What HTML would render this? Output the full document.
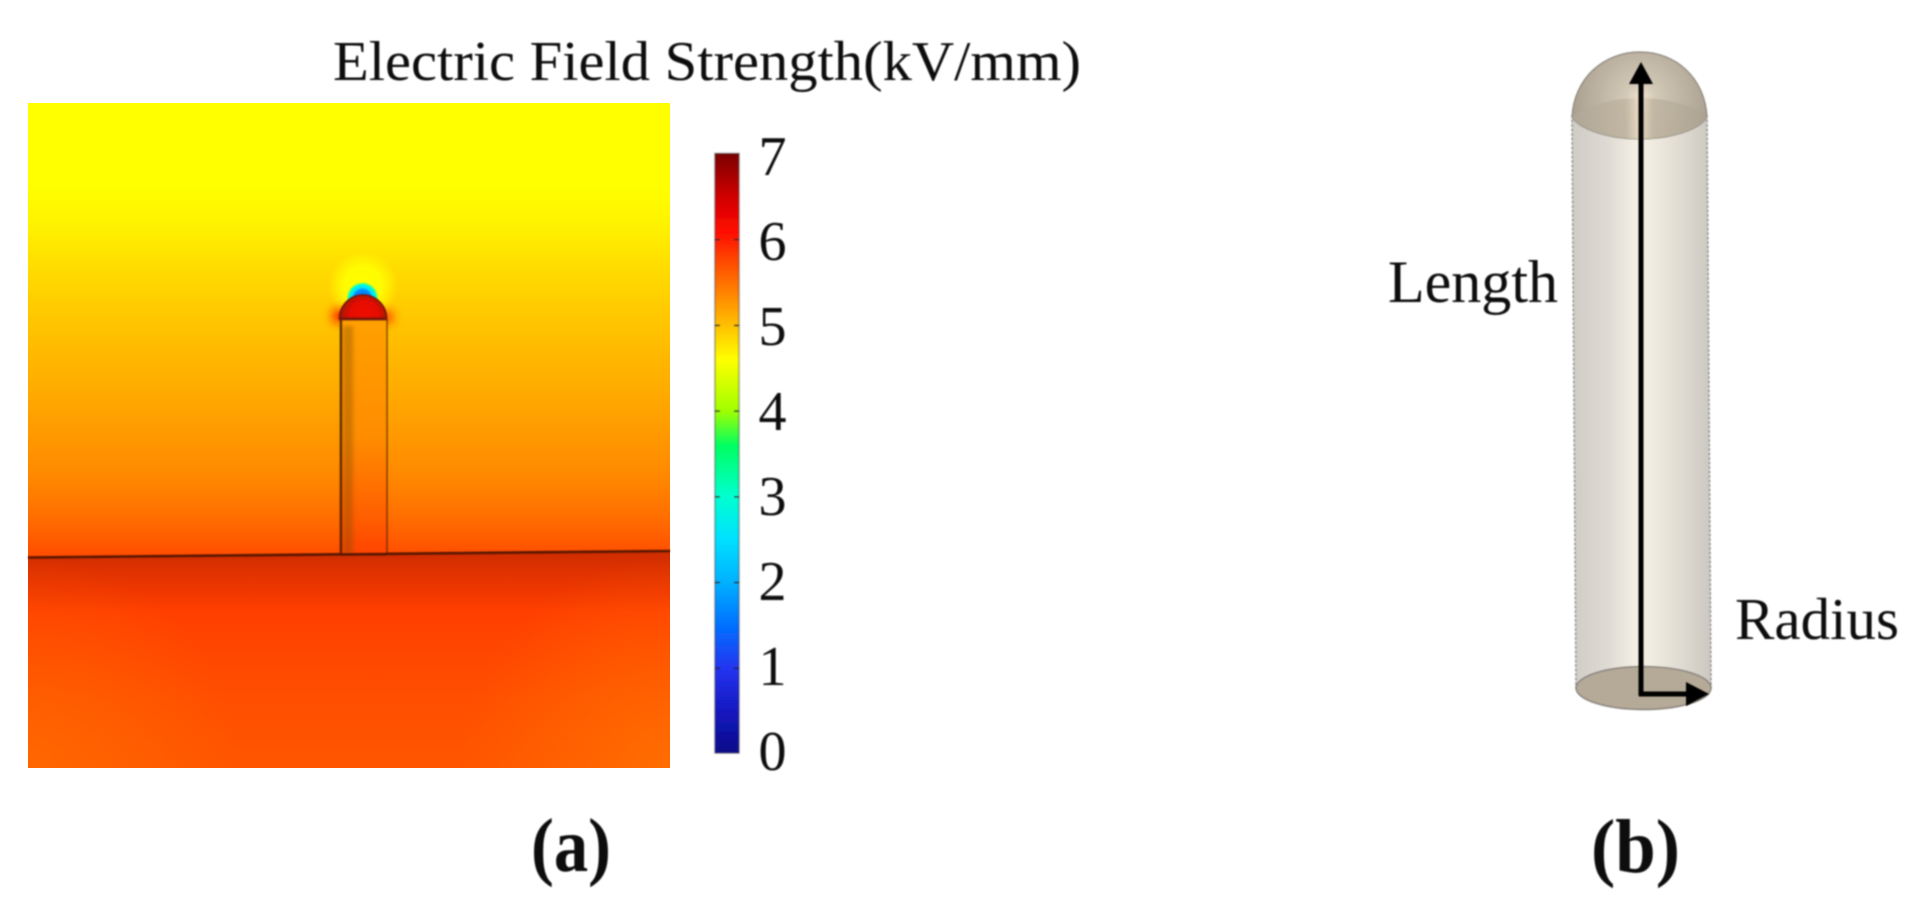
<!DOCTYPE html>
<html lang="en">
<head>
<meta charset="utf-8">
<title>Electric field strength around a capsule-shaped particle</title>
<style>
html,body{margin:0;padding:0;background:#fff;width:1918px;height:908px;overflow:hidden}
svg{display:block}
text{font-family:"Liberation Serif",serif;fill:#0a0a0a}
</style>
</head>
<body>
<svg id="figure" xmlns="http://www.w3.org/2000/svg" width="1918" height="908" viewBox="0 0 1918 908">
<defs>
<filter id="soft" x="-5%" y="-5%" width="110%" height="110%"><feGaussianBlur stdDeviation="0.7"/></filter>
<filter id="softer" x="-60%" y="-5%" width="220%" height="110%"><feGaussianBlur stdDeviation="2"/></filter>
<filter id="glow" x="-150%" y="-150%" width="400%" height="400%"><feGaussianBlur stdDeviation="5"/></filter>
<linearGradient id="air-gradient" gradientUnits="userSpaceOnUse" x1="0" y1="103" x2="0" y2="556"></linearGradient>
<linearGradient id="substrate-gradient" gradientUnits="userSpaceOnUse" x1="0" y1="556" x2="0" y2="768"></linearGradient>
<linearGradient id="colorbar-gradient" gradientUnits="userSpaceOnUse" x1="0" y1="754" x2="0" y2="154"></linearGradient>
<linearGradient id="substrate-shade" x1="0" y1="0" x2="0" y2="1">
<stop offset="0" stop-color="#8a2000" stop-opacity=".42"/><stop offset=".1" stop-color="#8a2000" stop-opacity=".26"/><stop offset=".28" stop-color="#8a2000" stop-opacity="0"/>
</linearGradient>
<radialGradient id="corner-left" gradientUnits="userSpaceOnUse" cx="28" cy="768" r="210">
<stop offset="0" stop-color="#ff7a00" stop-opacity=".5"/><stop offset="1" stop-color="#ff7a00" stop-opacity="0"/>
</radialGradient>
<radialGradient id="corner-right" gradientUnits="userSpaceOnUse" cx="670" cy="768" r="210">
<stop offset="0" stop-color="#ff7a00" stop-opacity=".65"/><stop offset="1" stop-color="#ff7a00" stop-opacity="0"/>
</radialGradient>
<radialGradient id="tip-halo" gradientUnits="userSpaceOnUse" cx="363" cy="286" r="35">
<stop offset="0" stop-color="#ffff00"/><stop offset=".55" stop-color="#ffff00" stop-opacity=".9"/><stop offset="1" stop-color="#ffff00" stop-opacity="0"/>
</radialGradient>
<radialGradient id="tip-depletion" gradientUnits="userSpaceOnUse" cx="362.5" cy="298" r="17">
<stop offset="0" stop-color="#0070ff"/><stop offset=".47" stop-color="#0090ff"/><stop offset=".62" stop-color="#00e0ff"/><stop offset=".78" stop-color="#00ffd0"/><stop offset=".9" stop-color="#a0ff40" stop-opacity=".8"/><stop offset="1" stop-color="#ffff00" stop-opacity="0"/>
</radialGradient>
<radialGradient id="cap-fill" gradientUnits="userSpaceOnUse" cx="364" cy="316" r="25">
<stop offset="0" stop-color="#f01000"/><stop offset=".6" stop-color="#e41000"/><stop offset="1" stop-color="#96140a"/>
</radialGradient>
<linearGradient id="rod-fill" gradientUnits="userSpaceOnUse" x1="0" y1="319" x2="0" y2="556">
<stop offset="0" stop-color="#ffa000"/><stop offset=".5" stop-color="#ff8c00"/><stop offset=".85" stop-color="#ff5c00"/><stop offset="1" stop-color="#ff4200"/>
</linearGradient>
<linearGradient id="capsule-body" gradientUnits="userSpaceOnUse" x1="1572" y1="0" x2="1711" y2="0">
<stop offset="0" stop-color="#cfcbc5"/><stop offset=".25" stop-color="#dedad3"/><stop offset=".49" stop-color="#f7f2e7"/><stop offset=".75" stop-color="#e2ded4"/><stop offset="1" stop-color="#cbc7c1"/>
</linearGradient>
<radialGradient id="capsule-dome" gradientUnits="userSpaceOnUse" cx="1641" cy="98" r="72">
<stop offset="0" stop-color="#f0e2cc"/><stop offset=".22" stop-color="#d2c8b6"/><stop offset="1" stop-color="#a89e8e"/>
</radialGradient>
<linearGradient id="capsule-dome-front" gradientUnits="userSpaceOnUse" x1="1572" y1="0" x2="1707" y2="0">
<stop offset="0" stop-color="#b0a696"/><stop offset=".4" stop-color="#c0b6a2"/><stop offset=".5" stop-color="#ecdcc4"/><stop offset=".6" stop-color="#c0b6a2"/><stop offset="1" stop-color="#aca292"/>
</linearGradient>
</defs>

<g id="panel-a">
<text x="333" y="80" font-size="56" textLength="748" lengthAdjust="spacingAndGlyphs" filter="url(#soft)">Electric Field Strength(kV/mm)</text>
<g>
<rect x="28" y="103" width="642" height="455" fill="url(#air-gradient)"/>
<polygon points="28,557 670,551 670,768 28,768" fill="url(#substrate-gradient)"/>
<polygon points="28,557 670,551 670,768 28,768" fill="url(#substrate-shade)"/>
<rect x="28" y="558" width="300" height="210" fill="url(#corner-left)"/>
<rect x="400" y="552" width="270" height="216" fill="url(#corner-right)"/>
</g>
<g>
<circle cx="363" cy="286" r="35" fill="url(#tip-halo)"/>
<circle cx="339" cy="316" r="7" fill="#ff1800" filter="url(#glow)"/>
<circle cx="387" cy="317" r="6" fill="#ff2800" filter="url(#glow)"/>
<circle cx="362.5" cy="298" r="17" fill="url(#tip-depletion)"/>
</g>
<g filter="url(#soft)">
<rect x="340" y="319" width="47" height="236" fill="url(#rod-fill)"/>
<rect x="343" y="326" width="10" height="228" fill="#7a4a10" opacity=".36" filter="url(#softer)"/>
<path d="M339.5 319 A23.5 24 0 0 1 386.5 319 Z" fill="url(#cap-fill)" stroke="#7a1408" stroke-width="1.8"/>
<line x1="340" y1="319" x2="387" y2="319" stroke="#7a1608" stroke-width="3.2"/>
<line x1="341" y1="320" x2="341" y2="555" stroke="#4a1e08" stroke-width="2.6" opacity=".85"/>
<line x1="387" y1="320" x2="387" y2="555" stroke="#4a1e08" stroke-width="1.6" opacity=".7"/>
<line x1="341" y1="555" x2="387" y2="555" stroke="#6a1e08" stroke-width="1.6" opacity=".8"/>
<line x1="28" y1="557.5" x2="670" y2="551" stroke="#5a1606" stroke-width="2.6"/>
</g>
<g id="colorbar" filter="url(#soft)">
<rect x="715" y="153.5" width="24" height="599.5" fill="url(#colorbar-gradient)" stroke="#303030" stroke-opacity=".45" stroke-width="1.6"/>
</g>
<text x="531" y="871" font-size="76" font-weight="700" textLength="80" lengthAdjust="spacingAndGlyphs" filter="url(#soft)">(a)</text>
</g>

<g id="panel-b">
<g filter="url(#soft)">
<path d="M1572 115 L1576 688 L1711 688 L1707 115 Z" fill="url(#capsule-body)" stroke="#8f8c88" stroke-width="1.4" stroke-dasharray="3 1.5"/>
<path d="M1572 117 C1574 78 1604 52 1640 52 C1676 52 1705 78 1707 117 C1700 130 1670 139 1640 139 C1610 139 1580 130 1572 117 Z" fill="url(#capsule-dome)" stroke="#8a8478" stroke-width="1.2"/>
<path d="M1572 117 C1585 105 1615 98 1640 98 C1665 98 1695 105 1707 117 C1700 130 1670 139 1640 139 C1610 139 1580 130 1572 117 Z" fill="url(#capsule-dome-front)" opacity=".9"/>
<ellipse cx="1643.5" cy="688" rx="67.5" ry="21.5" fill="#b5a997" stroke="#85807a" stroke-width="1.4"/>
</g>
<g filter="url(#soft)">
<line x1="1641" y1="696" x2="1641" y2="78" stroke="#000" stroke-width="5"/>
<polygon points="1641,62 1653,84 1629,84" fill="#000"/>
<line x1="1639" y1="694" x2="1692" y2="694" stroke="#000" stroke-width="5"/>
<polygon points="1709,694 1686,682 1686,706" fill="#000"/>
</g>
<text x="1388" y="302" font-size="60" textLength="170" lengthAdjust="spacingAndGlyphs" filter="url(#soft)">Length</text>
<text x="1735" y="639" font-size="59" textLength="164" lengthAdjust="spacingAndGlyphs" filter="url(#soft)">Radius</text>
<text x="1591" y="872" font-size="76" font-weight="700" textLength="89" lengthAdjust="spacingAndGlyphs" filter="url(#soft)">(b)</text>
</g>
</svg>

<script>
// Colour scale: field strength (kV/mm) and the colour shown at that strength
const scaleValues = [0, 0.5, 1, 1.5, 2, 2.5, 3, 3.6, 4, 4.6, 5, 5.4, 5.8, 6.1, 6.5, 7];
const scaleColors = ['#0a0a88', '#1418c0', '#2434f0', '#0070ff', '#00b0ff', '#00e0ff', '#00ffd0', '#00ff60', '#a0ff00', '#ffff00', '#ffc000', '#ff8000', '#ff4000', '#ff0a00', '#d00000', '#7a0000'];
// Colorbar ticks
const tickValues = [0, 1, 2, 3, 4, 5, 6, 7];
const tickLabels = ['0', '1', '2', '3', '4', '5', '6', '7'];
// Field strength read down the panel, equally spaced rows
const airFieldRows = [4.6, 4.6, 4.6, 4.68, 4.82, 4.93, 5.04, 5.13, 5.24, 5.34, 5.5, 5.72];
const substrateFieldRows = [5.85, 5.83, 5.79, 5.75, 5.71, 5.69, 5.67];

const SVG_NS = 'http://www.w3.org/2000/svg';
const BAR_BOTTOM = 754, BAR_TOP = 154, BAR_MAX = 7;
function barY(v) { return BAR_BOTTOM - (v / BAR_MAX) * (BAR_BOTTOM - BAR_TOP); }
function labelBaseline(v) { return 770 - v * 85; }
function hexToRgb(h) { return [1, 3, 5].map(i => parseInt(h.substr(i, 2), 16)); }
function colorFor(v) {
  if (v <= scaleValues[0]) return scaleColors[0];
  for (let i = 1; i < scaleValues.length; i++) {
    if (v <= scaleValues[i]) {
      const t = (v - scaleValues[i - 1]) / (scaleValues[i] - scaleValues[i - 1]);
      const a = hexToRgb(scaleColors[i - 1]), b = hexToRgb(scaleColors[i]);
      return 'rgb(' + a.map((c, k) => Math.round(c + (b[k] - c) * t)).join(',') + ')';
    }
  }
  return scaleColors[scaleColors.length - 1];
}
function addStop(grad, offset, color) {
  const s = document.createElementNS(SVG_NS, 'stop');
  s.setAttribute('offset', offset);
  s.setAttribute('stop-color', color);
  grad.appendChild(s);
}
function fillRows(id, rows) {
  const g = document.getElementById(id);
  rows.forEach((v, i) => addStop(g, i / (rows.length - 1), colorFor(v)));
}
fillRows('air-gradient', airFieldRows);
fillRows('substrate-gradient', substrateFieldRows);
const barGrad = document.getElementById('colorbar-gradient');
scaleValues.forEach((v, i) => addStop(barGrad, v / BAR_MAX, scaleColors[i]));

const colorbar = document.getElementById('colorbar');
tickValues.forEach((v, i) => {
  if (v > 0 && v < BAR_MAX) {
    [[715, 720], [734, 739]].forEach(([x1, x2]) => {
      const t = document.createElementNS(SVG_NS, 'line');
      
      
      t.setAttribute('x1', x1);
      t.setAttribute('x2', x2);
      t.setAttribute('y1', barY(v));
      t.setAttribute('y2', barY(v));
      t.setAttribute('stroke', '#222');
      t.setAttribute('stroke-width', '1.6');
      colorbar.appendChild(t);
    });
  }
  const label = document.createElementNS(SVG_NS, 'text');
  
  
  label.setAttribute('x', 772.5);
  label.setAttribute('y', labelBaseline(v));
  label.setAttribute('text-anchor', 'middle');
  label.setAttribute('font-size', 56);
  label.textContent = tickLabels[i];
  colorbar.appendChild(label);
});
</script>
</body>
</html>
